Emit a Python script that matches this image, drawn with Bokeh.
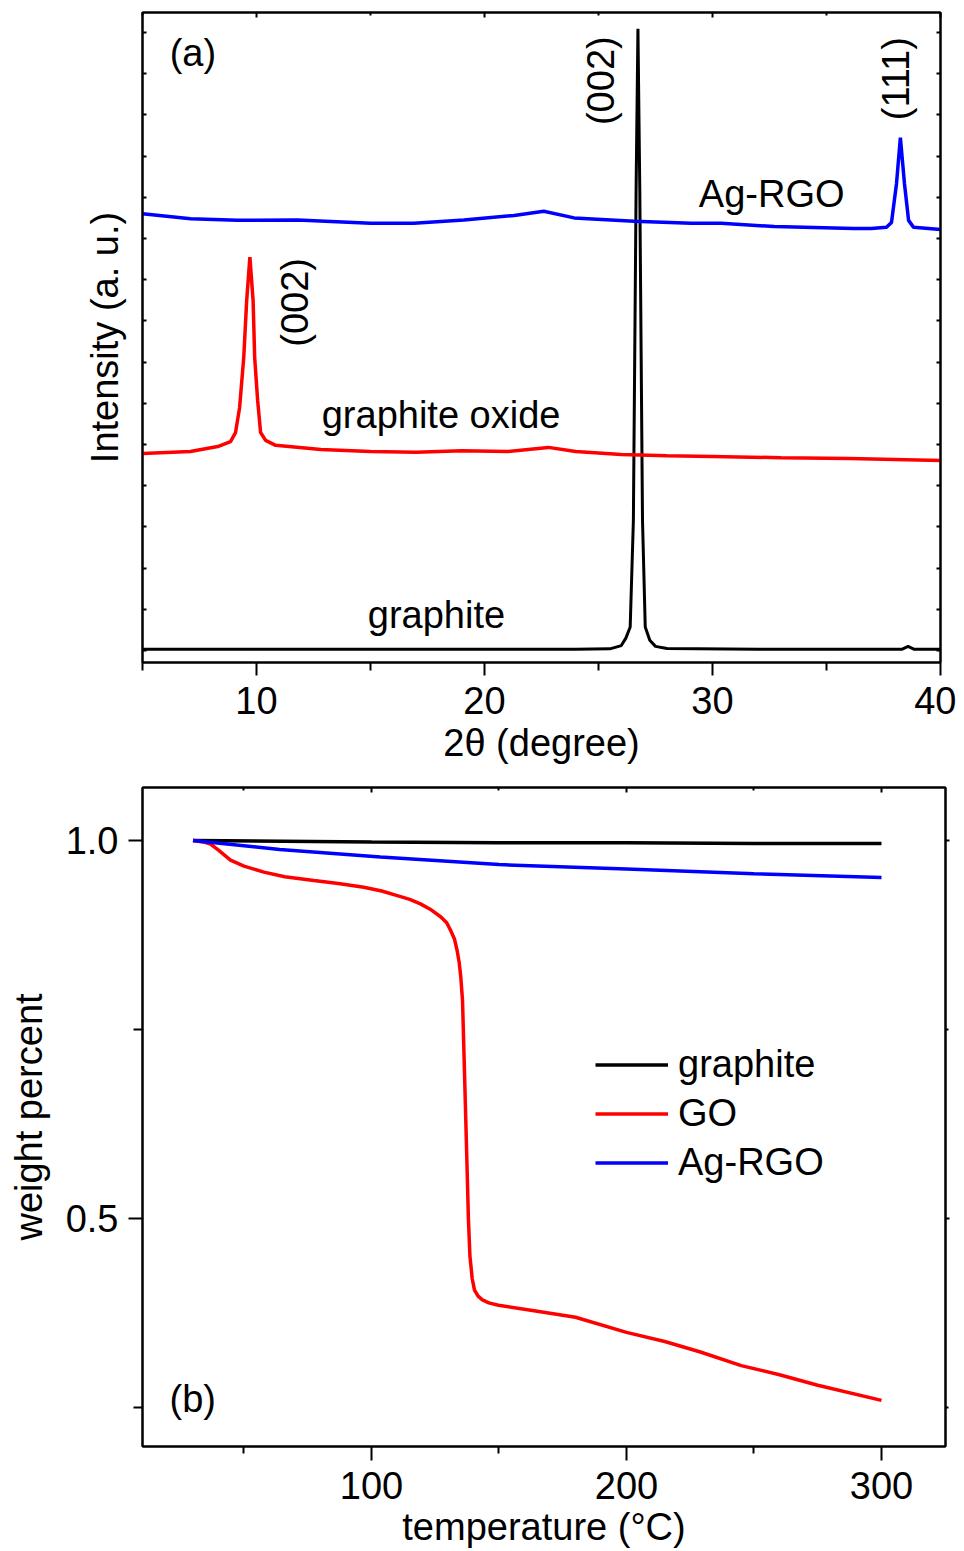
import math
from bokeh.plotting import figure
from bokeh.models import (Range1d, LinearAxis, FixedTicker, CustomJSTickFormatter,
                          PrintfTickFormatter, Label, Legend, LegendItem)
from bokeh.layouts import column
from bokeh.embed import file_html
from bokeh.resources import INLINE

FONT = "Liberation Sans"
FS = "38px"

# ---------------- XRD data (panel a) ----------------
graphite_2theta = [5, 8, 12, 16, 20, 24, 25.5, 26.0, 26.2, 26.39, 26.53, 26.65, 26.73,
                   26.81, 26.93, 27.05, 27.25, 27.5, 28, 32, 36, 38.3, 38.58, 38.85, 40]
graphite_int = [0.03, 0.03, 0.03, 0.03, 0.03, 0.03, 0.04, 0.12, 0.3, 0.57, 3.16, 11.25, 15.09,
                11.25, 3.16, 0.57, 0.25, 0.1, 0.05, 0.03, 0.03, 0.03, 0.10, 0.03, 0.03]

go_2theta = [5, 7.1, 8.3, 8.86, 9.08, 9.26, 9.44, 9.57, 9.71, 9.85, 9.92, 10.05, 10.18,
             10.40, 10.84, 12.82, 15, 17, 19, 21, 22.8, 24, 26, 28, 30, 33, 36, 40]
go_int = [4.78, 4.83, 4.95, 5.07, 5.29, 5.9, 7.11, 8.50, 9.55, 8.50, 7.11, 6.07, 5.29,
          5.10, 4.98, 4.88, 4.83, 4.81, 4.85, 4.83, 4.93, 4.83, 4.76, 4.73, 4.71, 4.68, 4.66, 4.61]

agrgo_2theta = [5, 7.11, 9.16, 11.79, 15.01, 16.9, 19.1, 21.3, 22.6, 23.93, 26.56, 29.07,
                30.38, 32.7, 36.2, 36.97, 37.63, 37.85, 38.07, 38.24, 38.42, 38.60, 38.82, 40]
agrgo_int = [10.60, 10.48, 10.44, 10.45, 10.37, 10.37, 10.45, 10.56, 10.66, 10.50, 10.42, 10.37,
             10.37, 10.29, 10.24, 10.24, 10.27, 10.39, 11.33, 12.45, 11.33, 10.44, 10.27, 10.22]

xrd_major_ticks = [10, 20, 30, 40]
xrd_minor_ticks = [5, 15, 25, 35]
xrd_y_ticks = list(range(0, 16))

# ---------------- TGA data (panel b) ----------------
tga_graphite_t = [30, 100, 150, 200, 250, 300]
tga_graphite_w = [1.0, 0.998, 0.997, 0.997, 0.996, 0.996]

tga_agrgo_t = [30, 64, 103.5, 150, 200, 250, 300]
tga_agrgo_w = [1.0, 0.988, 0.978, 0.968, 0.962, 0.956, 0.951]

tga_go_t = [30, 34, 36.9, 40, 44.7, 50, 57.8, 66, 77.4, 87, 97.0, 104, 110.1, 115, 119.2,
            123, 127.1, 129.5, 131.0, 132.5, 133.6, 134.4, 135.0, 135.7, 136.5, 137.3,
            138.0, 138.6, 139.5, 140.4, 141.8, 143.5, 146, 149.8, 165, 180, 200, 215,
            229, 245, 260, 275, 300]
tga_go_w = [1.0, 0.998, 0.995, 0.987, 0.974, 0.966, 0.958, 0.952, 0.947, 0.943, 0.938, 0.933,
            0.927, 0.922, 0.916, 0.909, 0.899, 0.891, 0.881, 0.870, 0.854, 0.838, 0.82,
            0.788, 0.69, 0.590, 0.50, 0.45, 0.42, 0.405, 0.397, 0.392, 0.388, 0.385, 0.377,
            0.369, 0.349, 0.337, 0.323, 0.305, 0.293, 0.279, 0.259]

tga_major_ticks = [100, 200, 300]
tga_minor_ticks = [50, 150, 250]
w_major_ticks = [0.5, 1.0]
w_minor_ticks = [0.25, 0.75]

EMPTY = "return ''"


def style_axis(ax):
    ax.axis_line_width = 2
    ax.axis_line_color = "black"
    ax.major_tick_line_width = 2
    ax.minor_tick_line_width = 2
    ax.major_tick_line_color = "black"
    ax.minor_tick_line_color = "black"
    ax.major_label_text_font = FONT
    ax.major_label_text_font_size = FS
    ax.major_label_text_color = "black"
    ax.axis_label_text_font = FONT
    ax.axis_label_text_font_size = FS
    ax.axis_label_text_font_style = "normal"
    ax.axis_label_text_color = "black"


def blank_axis(ticker, tin, tin_minor=0, tout=0, tout_minor=0):
    ax = LinearAxis(ticker=ticker, formatter=CustomJSTickFormatter(code=EMPTY))
    style_axis(ax)
    ax.major_tick_in = tin
    ax.major_tick_out = tout
    ax.minor_tick_in = tin_minor
    ax.minor_tick_out = tout_minor
    ax.major_label_standoff = 0
    return ax


# ---------------- Panel (a) ----------------
pa = figure(width=956, height=768, x_range=Range1d(5, 40), y_range=Range1d(-0.291, 15.485),
            output_backend="svg", toolbar_location=None,
            min_border_left=142, min_border_right=16, min_border_top=12, min_border_bottom=106)
pa.grid.visible = False
pa.outline_line_color = "black"
pa.outline_line_width = 2
pa.background_fill_color = "white"
pa.border_fill_color = "white"

pa.line(graphite_2theta, graphite_int, line_color="#000000", line_width=3)
pa.line(go_2theta, go_int, line_color="#ff0000", line_width=3.5)
pa.line(agrgo_2theta, agrgo_int, line_color="#0000ff", line_width=3.5)

xa = pa.xaxis[0]
style_axis(xa)
xa.ticker = FixedTicker(ticks=xrd_major_ticks, minor_ticks=xrd_minor_ticks)
xa.major_tick_out = 13
xa.major_tick_in = 0
xa.minor_tick_out = 8
xa.minor_tick_in = 0
xa.major_label_standoff = 11
xa.axis_label = "2θ (degree)"
xa.axis_label_standoff = 5

ya = pa.yaxis[0]
style_axis(ya)
ya.ticker = FixedTicker(ticks=xrd_y_ticks, minor_ticks=[])
ya.formatter = CustomJSTickFormatter(code=EMPTY)
ya.major_tick_in = 4
ya.major_tick_out = 0
ya.major_label_standoff = 0
ya.axis_label = "Intensity (a. u.)"
ya.axis_label_standoff = 17

pa.add_layout(blank_axis(FixedTicker(ticks=xrd_major_ticks, minor_ticks=xrd_minor_ticks), 5, 3), "above")
pa.add_layout(blank_axis(FixedTicker(ticks=xrd_y_ticks, minor_ticks=[]), 4), "right")

lab_kw = dict(text_font=FONT, text_font_size=FS, text_color="black", text_baseline="middle")
pa.add_layout(Label(x=6.19, y=14.5, text="(a)", text_align="left", **lab_kw))
pa.add_layout(Label(x=25.10, y=13.83, text="(002)", angle=math.pi / 2, text_align="center", **lab_kw))
pa.add_layout(Label(x=38.03, y=13.88, text="(111)", angle=math.pi / 2, text_align="center", **lab_kw))
pa.add_layout(Label(x=11.70, y=8.45, text="(002)", angle=math.pi / 2, text_align="center", **lab_kw))
pa.add_layout(Label(x=29.4, y=11.08, text="Ag-RGO", text_align="left", **lab_kw))
pa.add_layout(Label(x=12.86, y=5.72, text="graphite oxide", text_align="left", **lab_kw))
pa.add_layout(Label(x=14.88, y=0.86, text="graphite", text_align="left", **lab_kw))

# ---------------- Panel (b) ----------------
pb = figure(width=961, height=782, x_range=Range1d(10.2, 325.1), y_range=Range1d(0.198, 1.070),
            output_backend="svg", toolbar_location=None,
            min_border_left=142, min_border_right=16, min_border_top=19, min_border_bottom=104)
pb.grid.visible = False
pb.outline_line_color = "black"
pb.outline_line_width = 2
pb.background_fill_color = "white"
pb.border_fill_color = "white"

r_g = pb.line(tga_graphite_t, tga_graphite_w, line_color="#000000", line_width=3.5)
r_go = pb.line(tga_go_t, tga_go_w, line_color="#ff0000", line_width=3.5)
r_ag = pb.line(tga_agrgo_t, tga_agrgo_w, line_color="#0000ff", line_width=3.5)

xb = pb.xaxis[0]
style_axis(xb)
xb.ticker = FixedTicker(ticks=tga_major_ticks, minor_ticks=tga_minor_ticks)
xb.major_tick_out = 14
xb.major_tick_in = 0
xb.minor_tick_out = 7
xb.minor_tick_in = 0
xb.major_label_standoff = 11
xb.axis_label = "temperature (°C)"
xb.axis_label_standoff = 4

yb = pb.yaxis[0]
style_axis(yb)
yb.ticker = FixedTicker(ticks=w_major_ticks, minor_ticks=w_minor_ticks)
yb.formatter = PrintfTickFormatter(format="%.1f")
yb.major_tick_out = 14
yb.major_tick_in = 0
yb.minor_tick_out = 9
yb.minor_tick_in = 0
yb.major_label_standoff = 10
yb.axis_label = "weight percent"
yb.axis_label_standoff = 13

pb.add_layout(blank_axis(FixedTicker(ticks=tga_major_ticks, minor_ticks=tga_minor_ticks), 5, 3), "above")
pb.add_layout(blank_axis(FixedTicker(ticks=w_major_ticks, minor_ticks=w_minor_ticks), 0, 0, 4, 3), "right")

pb.add_layout(Label(x=20.8, y=0.261, text="(b)", text_align="left", **lab_kw))

legend = Legend(items=[LegendItem(label="graphite", renderers=[r_g]),
                       LegendItem(label="GO", renderers=[r_go]),
                       LegendItem(label="Ag-RGO", renderers=[r_ag])],
                location=(453, 261))
legend.label_text_font = FONT
legend.label_text_font_size = FS
legend.label_text_color = "black"
legend.glyph_width = 73
legend.glyph_height = 45
legend.label_height = 45
legend.spacing = 4
legend.padding = 0
legend.margin = 0
legend.label_standoff = 10
legend.border_line_color = None
legend.background_fill_alpha = 0
pb.add_layout(legend, "center")

layout = column(pa, pb, spacing=0)
open("out.html", "w").write(file_html(layout, INLINE))
